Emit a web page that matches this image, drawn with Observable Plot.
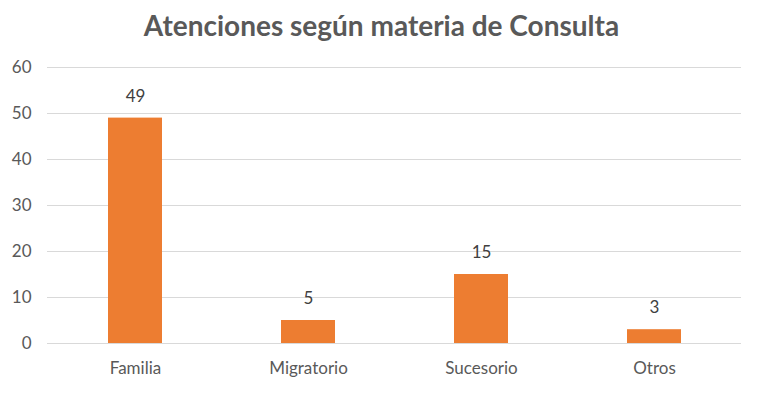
<!DOCTYPE html>
<html>
<head>
<meta charset="utf-8">
<script src="https://cdn.jsdelivr.net/npm/d3@7"></script>
<script src="https://cdn.jsdelivr.net/npm/@observablehq/plot@0.6"></script>
<style>
  body { margin: 0; background: #fff; font-family: Lato, "Open Sans", sans-serif; }
  #title { height: 50px; line-height: 50px; text-align: center; font-size: 28px; font-weight: bold; color: #595959; }
</style>
</head>
<body>
<div id="title">Atenciones según materia de Consulta</div>
<div id="chart"></div>
<script>
const categories = ["Familia", "Migratorio", "Sucesorio", "Otros"];
const values = [49, 5, 15, 3];
const yTicks = [0, 10, 20, 30, 40, 50, 60];

const data = categories.map((c, i) => ({category: c, value: values[i]}));

const chart = Plot.plot({
  width: 763,
  height: 344,
  marginTop: 17,
  marginBottom: 51,
  marginLeft: 47,
  marginRight: 22,
  style: {fontFamily: "Lato, 'Open Sans', sans-serif", fontSize: "17px", color: "#595959", background: "#fff"},
  x: {domain: categories, paddingInner: 0.69, paddingOuter: 0.345, label: null},
  y: {domain: [0, 60], label: null},
  marks: [
    Plot.ruleY(yTicks, {stroke: "#d9d9d9", strokeWidth: 1}),
    Plot.barY(data, {x: "category", y: "value", fill: "#ed7d31"}),
    Plot.text(data, {x: "category", y: "value", text: d => String(d.value), dy: -22, fill: "#404040", fontSize: 17}),
    Plot.axisY(yTicks, {tickSize: 0, tickPadding: 16, fill: "#595959", fontSize: 17}),
    Plot.axisX({tickSize: 0, tickPadding: 18, fill: "#595959", fontSize: 17})
  ]
});
document.getElementById("chart").appendChild(chart);
</script>
</body>
</html>
